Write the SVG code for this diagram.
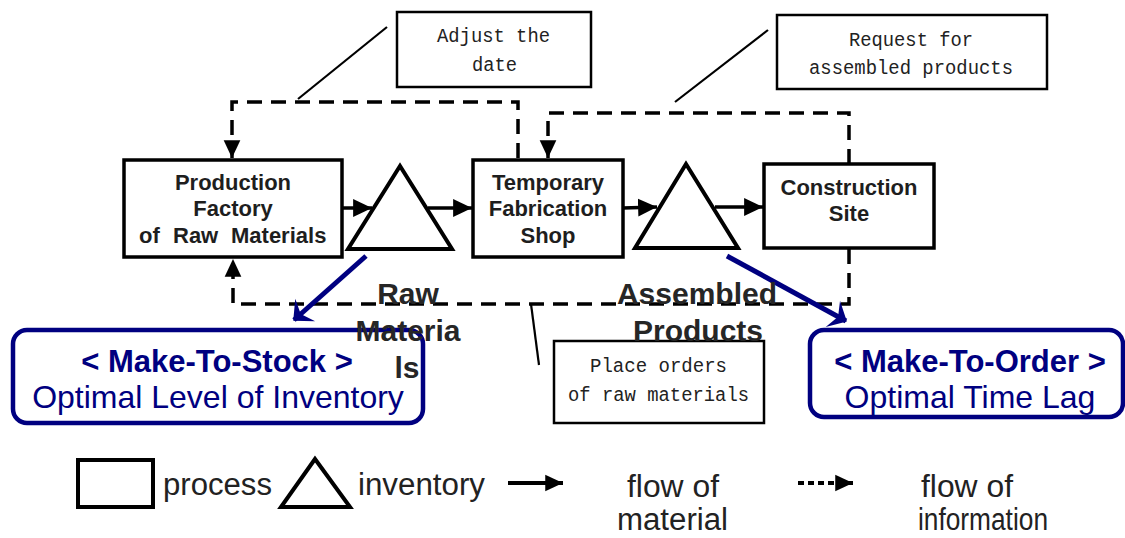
<svg xmlns="http://www.w3.org/2000/svg" width="1125" height="538" viewBox="0 0 1125 538">
<style>
.box{fill:#fff;stroke:#000;stroke-width:3.5}
.tri{fill:#fff;stroke:#000;stroke-width:4;stroke-linejoin:miter}
.note{fill:#fff;stroke:#000;stroke-width:2.5}
.lead{fill:none;stroke:#000;stroke-width:2.2}
.flow{fill:none;stroke:#000;stroke-width:3.5}
.info{fill:none;stroke:#000;stroke-width:3.5;stroke-dasharray:15 9}
.blue{fill:none;stroke:#000080;stroke-width:5}
.mode{fill:#fff;stroke:#000080;stroke-width:4.5}
.bt{font-family:"Liberation Sans",Arial,sans-serif;font-weight:bold;font-size:22px;fill:#1e1e1e;text-anchor:middle}
.bts{font-family:"Liberation Sans",Arial,sans-serif;font-weight:bold;font-size:22px;fill:#1e1e1e}
.mono{font-family:"Liberation Mono","Courier New",monospace;font-size:20px;fill:#222}
.big{font-family:"Liberation Sans",Arial,sans-serif;font-weight:bold;font-size:30px;fill:#262626;text-anchor:middle}
.mh{font-family:"Liberation Sans",Arial,sans-serif;font-weight:bold;font-size:31px;fill:#000080;text-anchor:middle}
.ms{font-family:"Liberation Sans",Arial,sans-serif;font-size:32px;fill:#000080;text-anchor:middle}
.leg{font-family:"Liberation Sans",Arial,sans-serif;font-size:31px;fill:#222}
</style>
<defs>
<marker id="ah" markerUnits="userSpaceOnUse" markerWidth="20" markerHeight="20" viewBox="-17 -9 18 18" refX="0" refY="0" orient="auto">
<path d="M0,0 L-17,-8 L-17,8 Z" fill="#000"/>
</marker>
<marker id="ahs" markerUnits="userSpaceOnUse" markerWidth="20" markerHeight="20" viewBox="-17 -9 18 18" refX="0" refY="0" orient="auto">
<path d="M0,0 L-16,-7.5 L-16,7.5 Z" fill="#000"/>
</marker>
<marker id="ahb" markerUnits="userSpaceOnUse" markerWidth="26" markerHeight="34" viewBox="-18 -17 20 34" refX="0" refY="0" orient="auto">
<path d="M1,0 L-15,-15 L-9,0 L-15,15 Z" fill="#000080"/>
</marker>
</defs>

<g id="connectors">
<!-- material flow -->
<line class="flow" x1="342" y1="208" x2="372" y2="208" marker-end="url(#ah)"/>
<line class="flow" x1="428" y1="208" x2="472" y2="208" marker-end="url(#ah)"/>
<line class="flow" x1="623" y1="208" x2="657" y2="207" marker-end="url(#ah)"/>
<line class="flow" x1="715" y1="207" x2="763" y2="207" marker-end="url(#ah)"/>
<!-- information flow -->
<path class="info" d="M518,158 L518,102 L232,102 L232,158" marker-end="url(#ahs)"/>
<path class="info" d="M849,164 L849,113 L548,113 L548,158" marker-end="url(#ahs)"/>
<path class="info" d="M849,249 L849,304 L233,304 L233,259" marker-end="url(#ahs)"/>
<!-- callout leaders -->
<line class="lead" x1="387" y1="27" x2="298" y2="99"/>
<line class="lead" x1="768" y1="30" x2="675" y2="102"/>
<line class="lead" x1="531" y1="304" x2="539" y2="365"/>
<!-- blue arrows -->
<line class="blue" x1="366" y1="256" x2="294" y2="320" marker-end="url(#ahb)"/>
<line class="blue" x1="727" y1="256" x2="846" y2="321" marker-end="url(#ahb)"/>
</g>

<g id="production-factory">
<rect class="box" x="124" y="160" width="218" height="97"/>
<text class="bt" x="233" y="190">Production</text>
<text class="bt" x="233" y="216">Factory</text>
<text class="bts" x="139" y="243">of</text>
<text class="bts" x="173" y="243">Raw</text>
<text class="bts" x="231" y="243">Materials</text>
</g>

<g id="raw-materials-inventory">
<polygon class="tri" points="400,166 348,249 452,249"/>
</g>

<g id="fabrication-shop">
<rect class="box" x="473" y="160" width="150" height="97"/>
<text class="bt" x="548" y="190">Temporary</text>
<text class="bt" x="548" y="216">Fabrication</text>
<text class="bt" x="548" y="243">Shop</text>
</g>

<g id="assembled-inventory">
<polygon class="tri" points="686,164 635,248 738,248"/>
</g>

<g id="construction-site">
<rect class="box" x="764" y="164" width="170" height="84"/>
<text class="bt" x="849" y="195">Construction</text>
<text class="bt" x="849" y="221">Site</text>
</g>

<g id="note-adjust">
<rect class="note" x="397" y="12" width="194" height="75"/>
<text class="mono" x="437" y="42" textLength="113" lengthAdjust="spacingAndGlyphs">Adjust the</text>
<text class="mono" x="472" y="71" textLength="45" lengthAdjust="spacingAndGlyphs">date</text>
</g>

<g id="note-request">
<rect class="note" x="777" y="15" width="270" height="74"/>
<text class="mono" x="849" y="46" textLength="124" lengthAdjust="spacingAndGlyphs">Request for</text>
<text class="mono" x="809" y="74" textLength="204" lengthAdjust="spacingAndGlyphs">assembled products</text>
</g>

<g id="note-orders">
<rect class="note" x="554" y="341" width="210" height="82"/>
<text class="mono" x="590" y="372" textLength="137" lengthAdjust="spacingAndGlyphs">Place orders</text>
<text class="mono" x="568" y="401" textLength="181" lengthAdjust="spacingAndGlyphs">of raw materials</text>
</g>

<g id="make-to-stock">
<rect class="mode" x="13" y="330" width="410" height="93" rx="14"/>
<text class="mh" x="217" y="372">&lt; Make-To-Stock &gt;</text>
<text class="ms" x="218" y="408">Optimal Level of Inventory</text>
</g>

<g id="make-to-order">
<rect class="mode" x="810" y="330" width="313" height="87" rx="14"/>
<text class="mh" x="970" y="372">&lt; Make-To-Order &gt;</text>
<text class="ms" x="970" y="408">Optimal Time Lag</text>
</g>

<g id="label-raw">
<text class="big" x="408" y="304">Raw</text>
<text class="big" x="408" y="341">Materia</text>
<text class="big" x="407" y="378">ls</text>
</g>

<g id="label-assembled">
<text class="big" x="697" y="304">Assembled</text>
<text class="big" x="698" y="341">Products</text>
</g>

<g id="legend">
<rect x="78" y="460" width="75" height="47" fill="#fff" stroke="#000" stroke-width="4"/>
<text class="leg" x="163" y="495" textLength="109" lengthAdjust="spacingAndGlyphs">process</text>
<polygon points="315,459 281,507 350,507" fill="#fff" stroke="#000" stroke-width="4"/>
<text class="leg" x="358" y="495" textLength="127" lengthAdjust="spacingAndGlyphs">inventory</text>
<line x1="508" y1="483" x2="563" y2="483" stroke="#000" stroke-width="4" marker-end="url(#ahs)"/>
<text class="leg" x="627" y="497" textLength="92" lengthAdjust="spacingAndGlyphs">flow of</text>
<text class="leg" x="617" y="530" textLength="111" lengthAdjust="spacingAndGlyphs">material</text>
<line x1="798" y1="483" x2="853" y2="483" stroke="#000" stroke-width="4" stroke-dasharray="6 4" marker-end="url(#ahs)"/>
<text class="leg" x="921" y="497" textLength="92" lengthAdjust="spacingAndGlyphs">flow of</text>
<text class="leg" x="918" y="530" textLength="130" lengthAdjust="spacingAndGlyphs">information</text>
</g>
</svg>
